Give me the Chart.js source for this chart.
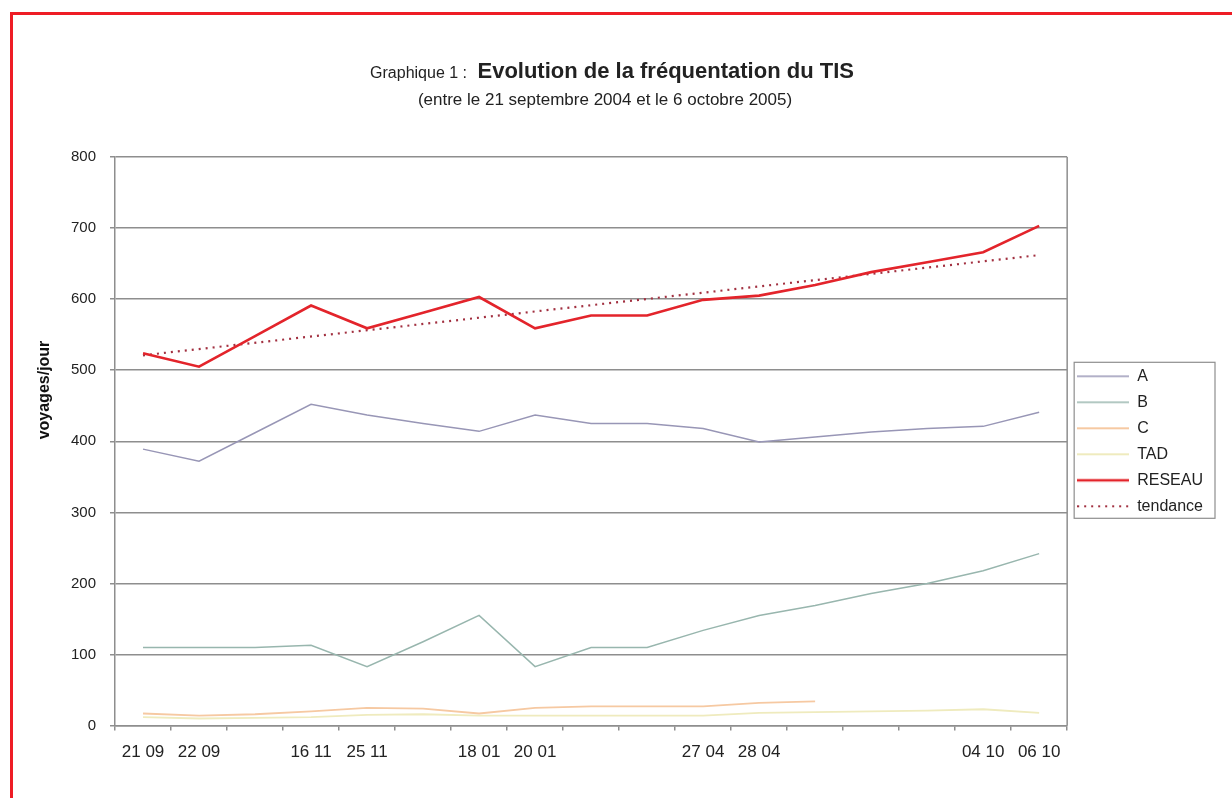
<!DOCTYPE html>
<html>
<head>
<meta charset="utf-8">
<script src="https://cdn.jsdelivr.net/npm/chart.js@4/dist/chart.umd.min.js"></script>
<style>
  html, body { margin: 0; padding: 0; background: #fff; overflow: hidden; }
  #frame { position: absolute; left: 10px; top: 12px; width: 1300px; height: 900px; border: 3px solid #ee1c25; }
  #wrap { position: absolute; left: 0; top: 0; width: 1232px; height: 798px; }
</style>
</head>
<body>
<div id="frame"></div>
<div id="wrap"><canvas id="chart" width="1232" height="798"></canvas></div>
<script>
// Data (voyages/jour)
const dates = ['21 09', '22 09', '', '16 11', '25 11', '', '18 01', '20 01', '', '', '27 04', '28 04', '', '', '', '04 10', '06 10'];
const serieA = [389, 372, 412, 452, 437, 425, 414, 437, 425, 425, 418, 399, 406, 413, 418, 421, 441];
const serieB = [110, 110, 110, 113, 83, 118, 155, 83, 110, 110, 134, 155, 169, 186, 200, 218, 242];
const serieC = [17, 14, 16, 20, 25, 24, 17, 25, 27, 27, 27, 32, 34, null, null, null, null];
const serieTAD = [12, 10, 11, 12, 15, 16, 14, 14, 14, 14, 14, 18, 19, 20, 21, 23, 18];
const reseau = [524, 505, 548, 591, 559, 581, 603, 559, 577, 577, 599, 605, 620, 638, 652, 666, 703];
const tendance = [521, null, null, null, null, null, null, null, null, null, null, null, null, null, null, null, 662];

const FONT = "'Liberation Sans', Arial, sans-serif";
const GRID = '#8e8e8e';

// Title block with mixed styles + rotated y title
const titlePlugin = {
    id: 'titleBlock',
    afterDraw(chart) {
        const c = chart.ctx;
        c.save();
        c.fillStyle = '#222';
        c.textBaseline = 'middle';
        const small = '16px ' + FONT;
        const big = 'bold 22px ' + FONT;
        const part1 = 'Graphique 1 : ';
        const part2 = 'Evolution de la fréquentation du TIS';
        c.font = small;
        const w1 = c.measureText(part1).width;
        c.font = big;
        const w2 = c.measureText(part2).width;
        let x = 612 - (w1 + w2 + 6) / 2;
        c.textAlign = 'left';
        c.font = small;
        c.fillText(part1, x, 74);
        c.font = big;
        c.fillText(part2, x + w1 + 6, 72);
        c.font = '17px ' + FONT;
        c.textAlign = 'center';
        c.fillText('(entre le 21 septembre 2004 et le 6 octobre 2005)', 605, 100);

        c.translate(45, 390);
        c.rotate(-Math.PI / 2);
        c.font = 'bold 16px ' + FONT;
        c.fillStyle = '#111';
        c.fillText('voyages/jour', 0, 0);
        c.restore();
    }
};

// Plot area right border + legend frame
const framePlugin = {
    id: 'frames',
    afterDraw(chart) {
        const c = chart.ctx;
        const a = chart.chartArea;
        c.save();
        c.strokeStyle = GRID;
        c.lineWidth = 1.5;
        c.beginPath();
        c.moveTo(a.right, a.top);
        c.lineTo(a.right, a.bottom);
        c.stroke();
        const boxes = chart.legend.legendHitBoxes;
        if (boxes && boxes.length) {
            let l = Infinity, t = Infinity, r = -Infinity, b = -Infinity;
            boxes.forEach(h => {
                l = Math.min(l, h.left); t = Math.min(t, h.top);
                r = Math.max(r, h.left + h.width); b = Math.max(b, h.top + h.height);
            });
            c.lineWidth = 1.2;
            c.strokeRect(l - 3, t - 6, r - l + 15, b - t + 10);
        }
        c.restore();
    }
};

// small line samples for the legend
function sample(color, width, dash) {
    const cv = document.createElement('canvas');
    cv.width = 52;
    cv.height = 6;
    const g = cv.getContext('2d');
    g.strokeStyle = color;
    g.lineWidth = width;
    g.setLineDash(dash || []);
    g.beginPath();
    g.moveTo(0, 3);
    g.lineTo(52, 3);
    g.stroke();
    return cv;
}

function line(label, data, color, width, dash) {
    return {
        label: label,
        data: data,
        borderColor: color,
        backgroundColor: color,
        borderWidth: width,
        borderDash: dash || [],
        pointRadius: 0,
        pointHoverRadius: 0,
        tension: 0,
        fill: false,
        spanGaps: !!dash
    };
}

const datasets = [
    line('A', serieA, '#9896b6', 1.5),
    line('B', serieB, '#98b6ae', 1.5),
    line('C', serieC, '#f6c9a2', 1.8),
    line('TAD', serieTAD, '#efebbe', 1.8),
    line('RESEAU', reseau, '#e3242b', 2.6),
    line('tendance', tendance, '#a23040', 2.2, [2, 5])
];

const ctx = document.getElementById('chart').getContext('2d');
new Chart(ctx, {
    type: 'line',
    data: { labels: dates, datasets: datasets },
    options: {
        responsive: false,
        animation: false,
        events: [],
        layout: { padding: { top: 157, left: 57, right: 19, bottom: 23 } },
        plugins: {
            title: { display: false },
            tooltip: { enabled: false },
            legend: {
                position: 'right',
                align: 'center',
                fullSize: false,
                labels: {
                    usePointStyle: true,
                    pointStyleWidth: 52,
                    padding: 10,
                    color: '#222',
                    font: { family: FONT, size: 16 },
                    generateLabels(chart) {
                        const items = Chart.defaults.plugins.legend.labels.generateLabels(chart);
                        items.forEach(it => {
                            const d = datasets[it.datasetIndex];
                            it.pointStyle = sample(d.borderColor, d.borderWidth, d.borderDash);
                        });
                        return items;
                    }
                }
            }
        },
        scales: {
            x: {
                offset: true,
                grid: { display: true, offset: true, drawOnChartArea: false, drawTicks: true, tickLength: 5, color: GRID, lineWidth: 1.5 },
                border: { display: true, color: GRID, width: 1.5 },
                ticks: { autoSkip: false, maxRotation: 0, color: '#222', padding: 12, font: { family: FONT, size: 17 } }
            },
            y: {
                min: 0,
                max: 800,
                ticks: { stepSize: 100, color: '#222', padding: 14, font: { family: FONT, size: 15 } },
                grid: { color: GRID, lineWidth: 1.5, tickLength: 5 },
                border: { display: true, color: GRID, width: 1.5 }
            }
        }
    },
    plugins: [titlePlugin, framePlugin]
});
</script>
</body>
</html>
